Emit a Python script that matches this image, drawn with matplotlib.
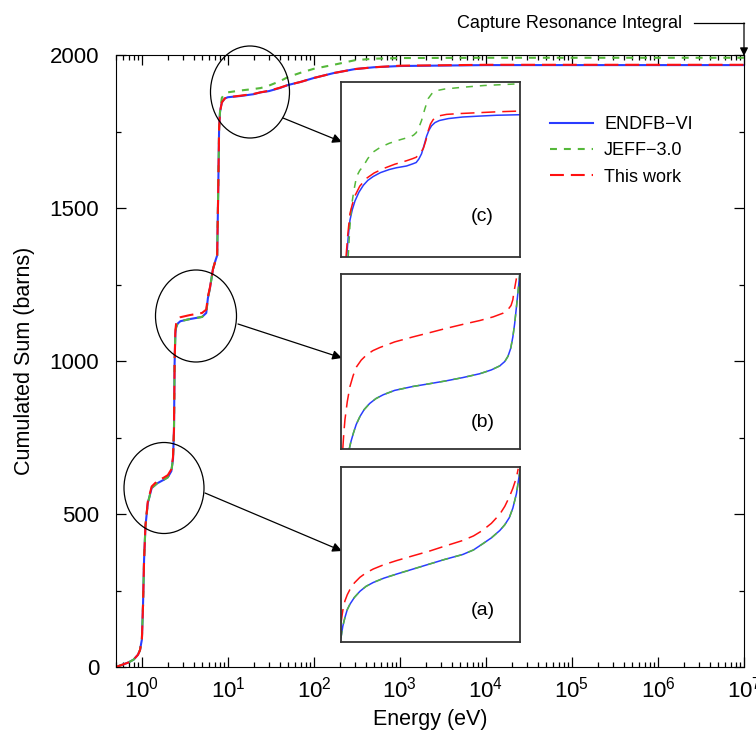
import numpy as np
import matplotlib.pyplot as plt
from matplotlib.patches import Ellipse
from matplotlib.lines import Line2D
from matplotlib.ticker import FixedLocator, LogLocator, MultipleLocator, NullFormatter

plt.rcParams['font.family'] = ['Liberation Sans', 'DejaVu Sans']
plt.rcParams['mathtext.default'] = 'regular'
plt.rcParams['lines.scale_dashes'] = False

# energia (eV) y suma acumulada (barns)
energia = [0.5, 0.6, 0.7, 0.8, 0.9, 0.95, 1.0, 1.03, 1.06, 1.1, 1.17,
           1.3, 1.5, 1.8, 2.0, 2.2, 2.3, 2.36, 2.4, 2.45, 2.5,
           2.6, 2.8, 3.6, 5.0, 5.6, 5.85, 6.2, 6.7, 7.2, 7.5,
           7.7, 7.9, 8.1, 8.5, 9.2, 10, 14, 20, 24, 30,
           40, 50, 70, 100, 170, 300, 500, 1e3, 1e4, 1e5, 1e6, 1e7]
endf = [0, 8, 15, 24, 40, 55, 90, 200, 350, 460, 535,
        585, 600, 612, 620, 640, 680, 770, 990, 1090, 1110,
        1122, 1130, 1137, 1144, 1157, 1205, 1240, 1300, 1330, 1345,
        1540, 1760, 1815, 1845, 1858, 1862, 1866, 1872, 1878, 1882,
        1892, 1902, 1912, 1925, 1941, 1954, 1960, 1964, 1967, 1967, 1967, 1967]
jeff = [0, 8, 15, 24, 40, 55, 90, 200, 350, 460, 535,
        585, 600, 612, 620, 640, 680, 770, 990, 1090, 1110,
        1122, 1130, 1137, 1144, 1157, 1205, 1240, 1300, 1330, 1345,
        1540, 1760, 1815, 1860, 1874, 1878, 1884, 1889, 1892, 1900,
        1914, 1928, 1942, 1955, 1968, 1983, 1988, 1990, 1991, 1991, 1991, 1991]
este_trabajo = [0, 8, 15, 24, 40, 55, 90, 200, 350, 462, 540,
                590, 607, 619, 627, 646, 686, 775, 995, 1100, 1122,
                1134, 1143, 1150, 1157, 1168, 1210, 1242, 1300, 1330, 1345,
                1540, 1760, 1815, 1845, 1858, 1862, 1867, 1873, 1878, 1883,
                1893, 1902, 1912, 1925, 1941, 1954, 1960, 1965, 1968, 1968, 1968, 1968]
decadas = [1e0, 1e1, 1e2, 1e3, 1e4, 1e5, 1e6, 1e7]

# recuadros ampliados (unidades relativas 0-100)
a_x = [0, 1, 2.2, 3.5, 5, 7.5, 10.6, 14, 18, 24, 31, 40, 49.6, 58, 68, 74, 79, 84, 88.7, 91.5, 94, 96, 98, 100]
a_endf = [2.5, 9, 14, 18.5, 21.6, 25.5, 29, 31.8, 34, 36.5, 38.8, 41.6, 44.6, 47.2, 50, 52.6, 56, 59.5, 63.7, 67, 71, 76.5, 84.7, 98]
a_x_red = [0, 1, 2.2, 3.5, 5, 7.5, 10.6, 14, 18, 24, 31, 40, 49.6, 58, 68, 74, 79, 84, 88.7, 91.5, 94, 96, 98, 99]
a_red = [11, 18, 23.5, 27, 30, 33.8, 37, 39.5, 41.7, 44.2, 46.5, 49.2, 52, 54.8, 58, 60.6, 63.7, 67.8, 73, 77.5, 82.8, 87.8, 94, 99]

b_x = [4.6, 5.5, 6.9, 8.5, 10.6, 13, 16, 19.5, 23.6, 30, 40, 50, 59, 68, 77.5, 84, 88.7, 91.5, 93.3, 94.8, 96, 97, 98, 99, 99.8]
b_endf = [0, 4, 9, 14, 18.6, 22.6, 26, 28.8, 31, 33.5, 35.7, 37.4, 39, 40.8, 43, 45.2, 47.5, 50, 53, 57.5, 64, 71.5, 81, 91, 99.4]
b_x_red = [1, 1.5, 2.2, 3.5, 5, 6.8, 8.7, 11.3, 14.3, 17.8, 21.7, 30, 40, 50, 59, 68, 77.5, 85, 90.5, 93, 95, 96, 96.5, 97.3, 98]
b_red = [0, 8, 16.7, 27, 35.7, 42, 47, 50.8, 53.8, 56.2, 58, 61.2, 64, 66.6, 69, 71.2, 73.4, 75.5, 77.6, 79.3, 82, 85.3, 89, 93.5, 97.5]

c_x = [3.2, 4, 5, 6.3, 7.8, 10, 12.5, 15, 18, 22, 27, 31, 36.6, 40, 42, 43.5, 45, 46.4, 47.8, 49.2, 50.6, 52.5, 55, 60, 68, 77, 87, 100]
c_endf = [0, 11, 21, 27, 32, 37, 41, 43.8, 46, 48.2, 50, 51, 52, 53.2, 54, 56, 59, 63.8, 69, 72.6, 75, 76.8, 78, 79.1, 80, 80.5, 81, 81.3]
c_x_red = [2.8, 3.8, 5, 6.3, 7.8, 10.5, 14.3, 18.5, 23.6, 30, 36.6, 40, 42, 44, 46, 47.4, 48.7, 50, 51.5, 54, 59, 67, 77.5, 88, 100]
c_red = [0, 13, 24.8, 30, 35, 40.5, 45, 48, 50.5, 53, 55, 56.2, 57, 59, 62, 66.5, 72, 76, 78.5, 80.5, 81.5, 82, 82.5, 83, 83.4]
c_x_jeff = [4, 5, 6, 7.2, 8.7, 10.5, 12.5, 15, 18, 22, 27, 33, 38.5, 40.5, 42, 43.5, 45, 46.8, 48.7, 50.7, 53, 58, 68, 80, 100]
c_jeff = [0, 18, 30, 38, 46, 49.5, 52, 56.3, 60, 62.7, 65, 67, 68.6, 69.6, 71, 74, 78, 84.5, 90.5, 93.3, 95, 96, 97, 98, 99]

azul = '#2a3cff'
verde = '#55b83a'
rojo = '#ff1010'
guion_verde = (0, (5, 5))
guion_rojo = (0, (10, 5))

W, H = 756, 738


def fig_xy(x, y):
    # pixeles de la imagen (origen arriba a la izquierda) -> fraccion de figura
    return x / W, 1 - y / H


fig = plt.figure(figsize=(W / 100, H / 100), dpi=100)
ax = fig.add_axes([116 / W, 1 - 667 / H, 628 / W, 612 / H])

ax.plot(energia, endf, color=azul, lw=1.5, label='ENDFB\u2212VI')
ax.plot(energia, jeff, color=verde, lw=1.5, ls=guion_verde, label='JEFF\u22123.0')
ax.plot(energia, este_trabajo, color=rojo, lw=1.5, ls=guion_rojo, label='This work')

ax.set_xscale('log')
ax.set_xlim(0.5, 1e7)
ax.set_ylim(0, 2000)
ax.xaxis.set_major_locator(FixedLocator(decadas))
ax.xaxis.set_minor_locator(LogLocator(base=10, subs=np.arange(2, 10), numticks=20))
ax.xaxis.set_minor_formatter(NullFormatter())
ax.yaxis.set_major_locator(MultipleLocator(500))
ax.yaxis.set_minor_locator(MultipleLocator(250))
ax.tick_params(which='both', direction='in', top=True, right=True, labelsize=16)
ax.tick_params(which='major', length=7, width=0.9)
ax.tick_params(which='minor', length=3.5, width=0.9)
ax.tick_params(axis='y', which='major', pad=12)
ax.tick_params(axis='x', which='major', pad=7)

ax.set_xlabel('Energy (eV)', fontsize=15.5)
ax.set_ylabel('Cumulated Sum (barns)', fontsize=15.5)
ax.xaxis.set_label_coords(0.5, -0.068)
ax.yaxis.set_label_coords(-0.129, 0.5)

ax.legend(loc='upper left', bbox_to_anchor=fig_xy(550, 116), bbox_transform=fig.transFigure,
          frameon=False, fontsize=13, handlelength=2.4, handletextpad=0.6,
          labelspacing=0.52, borderpad=0, borderaxespad=0)

# recuadros (a), (b), (c)
recuadros = [
    (82, '(c)', 0.23, [(c_x, c_endf, azul, '-'), (c_x_jeff, c_jeff, verde, guion_verde),
                       (c_x_red, c_red, rojo, guion_rojo)]),
    (274, '(b)', 0.15, [(b_x, b_endf, azul, '-'), (b_x, b_endf, verde, guion_verde),
                        (b_x_red, b_red, rojo, guion_rojo)]),
    (467, '(a)', 0.18, [(a_x, a_endf, azul, '-'), (a_x, a_endf, verde, guion_verde),
                        (a_x_red, a_red, rojo, guion_rojo)]),
]
for arriba, etiqueta, pos_y, curvas in recuadros:
    izq, abajo = fig_xy(341, arriba + 175)
    axi = fig.add_axes([izq, abajo, 179 / W, 175 / H])
    for xs, ys, color, estilo in curvas:
        axi.plot(xs, ys, color=color, lw=1.1, ls=estilo)
    axi.set_xlim(0, 100)
    axi.set_ylim(0, 100)
    axi.set_xticks([])
    axi.set_yticks([])
    for s in axi.spines.values():
        s.set_color('#333333')
        s.set_linewidth(1.3)
    axi.text(0.79, pos_y, etiqueta, transform=axi.transAxes, fontsize=14,
             ha='center', va='center')

# elipses y flechas
elipses = [((250, 92), 79, 92, (283, 118), (342, 142)),
           ((196, 316), 81, 92, (238, 324), (342, 358)),
           ((164, 488), 80, 91, (205, 493), (342, 551))]
for centro, ancho, alto, desde, hasta in elipses:
    fig.add_artist(Ellipse(fig_xy(*centro), ancho / W, alto / H, transform=fig.transFigure,
                           fill=False, edgecolor='black', lw=0.9))
    ax.annotate('', xy=fig_xy(*hasta), xycoords='figure fraction',
                xytext=fig_xy(*desde), textcoords='figure fraction',
                arrowprops=dict(arrowstyle='-|>', color='black', lw=0.9,
                                mutation_scale=14, shrinkA=0, shrinkB=0))

# Capture Resonance Integral
fig.text(*fig_xy(682, 23), 'Capture Resonance Integral', fontsize=13,
         ha='right', va='center')
x0, y0 = fig_xy(694, 23)
x1, y1 = fig_xy(744, 23)
fig.add_artist(Line2D([x0, x1], [y0, y1], color='black', lw=0.9, transform=fig.transFigure))
ax.annotate('', xy=fig_xy(744, 56), xycoords='figure fraction',
            xytext=fig_xy(744, 23), textcoords='figure fraction',
            arrowprops=dict(arrowstyle='-|>', color='black', lw=0.9,
                            mutation_scale=12, shrinkA=0, shrinkB=0))

fig.savefig('out.png', dpi=100)
